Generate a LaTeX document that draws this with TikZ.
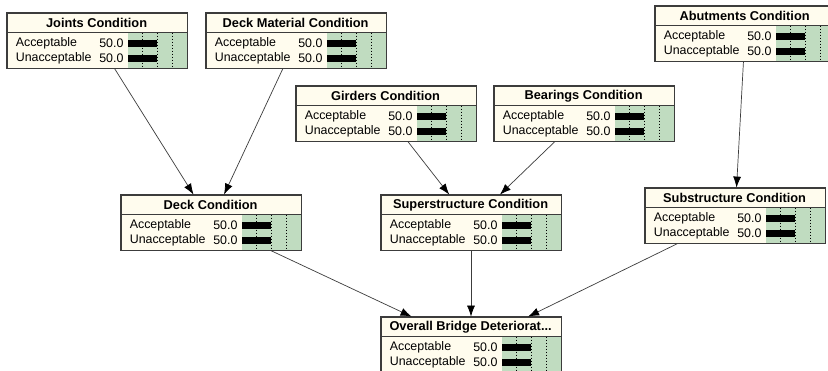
\documentclass[tikz,border=0pt]{standalone}
\usepackage{fontspec}
\setmainfont{Liberation Sans}
\usetikzlibrary{arrows.meta}

\definecolor{bncream}{RGB}{255,252,238}
\definecolor{bngreen}{RGB}{192,220,192}
\definecolor{bnedge}{RGB}{60,60,60}

\tikzset{
  bnbox/.style={draw=bnedge, fill=bncream, rectangle, minimum width=180pt,
    minimum height=55pt, inner sep=0pt, line width=0.8pt},
  bntitle/.style={font=\fontsize{12.8}{14}\selectfont\bfseries},
  bnstate/.style={font=\fontsize{12.4}{14}\selectfont, anchor=west, inner sep=0pt},
  bnvalue/.style={font=\fontsize{12.4}{14}\selectfont, anchor=east, inner sep=0pt},
  bnlink/.style={draw=bnedge, line width=0.7pt,
    -{Latex[length=11pt,width=8pt,color=black]}},
  bntick/.style={dash pattern=on 1.5pt off 1.5pt, line width=0.6pt},
}

% box of one variable: name, left, top, title
\newcommand{\bnnode}[4]{%
  \node[bnbox] (#1) at (#2+90,#3+27.5) {};
  \begin{scope}[shift={(#1.north west)}]
    \fill[bngreen] (121,20) rectangle (180,55);
    \foreach \f in {135.75,150.5,165.25}
      \draw[bntick] (\f,20) -- (\f,55);
    \fill (121,27.5) rectangle (150.5,34);
    \fill (121,42.5) rectangle (150.5,49);
    \draw[bnedge, line width=0.8pt] (0,20) -- (180,20);
    \node[bntitle] at (90,10.5) {#4};
    \node[bnstate] at (9,30.5) {Acceptable};
    \node[bnstate] at (9,45.5) {Unacceptable};
    \node[bnvalue] at (117,30.5) {50.0};
    \node[bnvalue] at (117,45.5) {50.0};
  \end{scope}
  \draw[bnedge, line width=0.8pt] (#1.north west) rectangle (#1.south east);
}

\begin{document}
\begin{tikzpicture}[x=1pt,y=-1pt]
  \clip (0,0) rectangle (828,371);
  \fill[white] (0,0) rectangle (828,371);

  \bnnode{joints}{7}{13}{Joints Condition}
  \bnnode{deckmat}{206}{13}{Deck Material Condition}
  \bnnode{abut}{655}{6}{Abutments Condition}
  \bnnode{girders}{296}{86}{Girders Condition}
  \bnnode{bearings}{494}{86}{Bearings Condition}
  \bnnode{deck}{121}{195}{Deck Condition}
  \bnnode{super}{381}{195}{Superstructure Condition}
  \bnnode{sub}{645}{188}{Substructure Condition}
  \bnnode{overall}{381}{317}{Overall Bridge Deteriorat...}

  \draw[bnlink] (joints) -- (deck);
  \draw[bnlink] (deckmat) -- (deck);
  \draw[bnlink] (girders) -- (super);
  \draw[bnlink] (bearings) -- (super);
  \draw[bnlink] (abut) -- (sub);
  \draw[bnlink] (deck) -- (overall);
  \draw[bnlink] (super) -- (overall);
  \draw[bnlink] (sub) -- (overall);
\end{tikzpicture}
\end{document}
